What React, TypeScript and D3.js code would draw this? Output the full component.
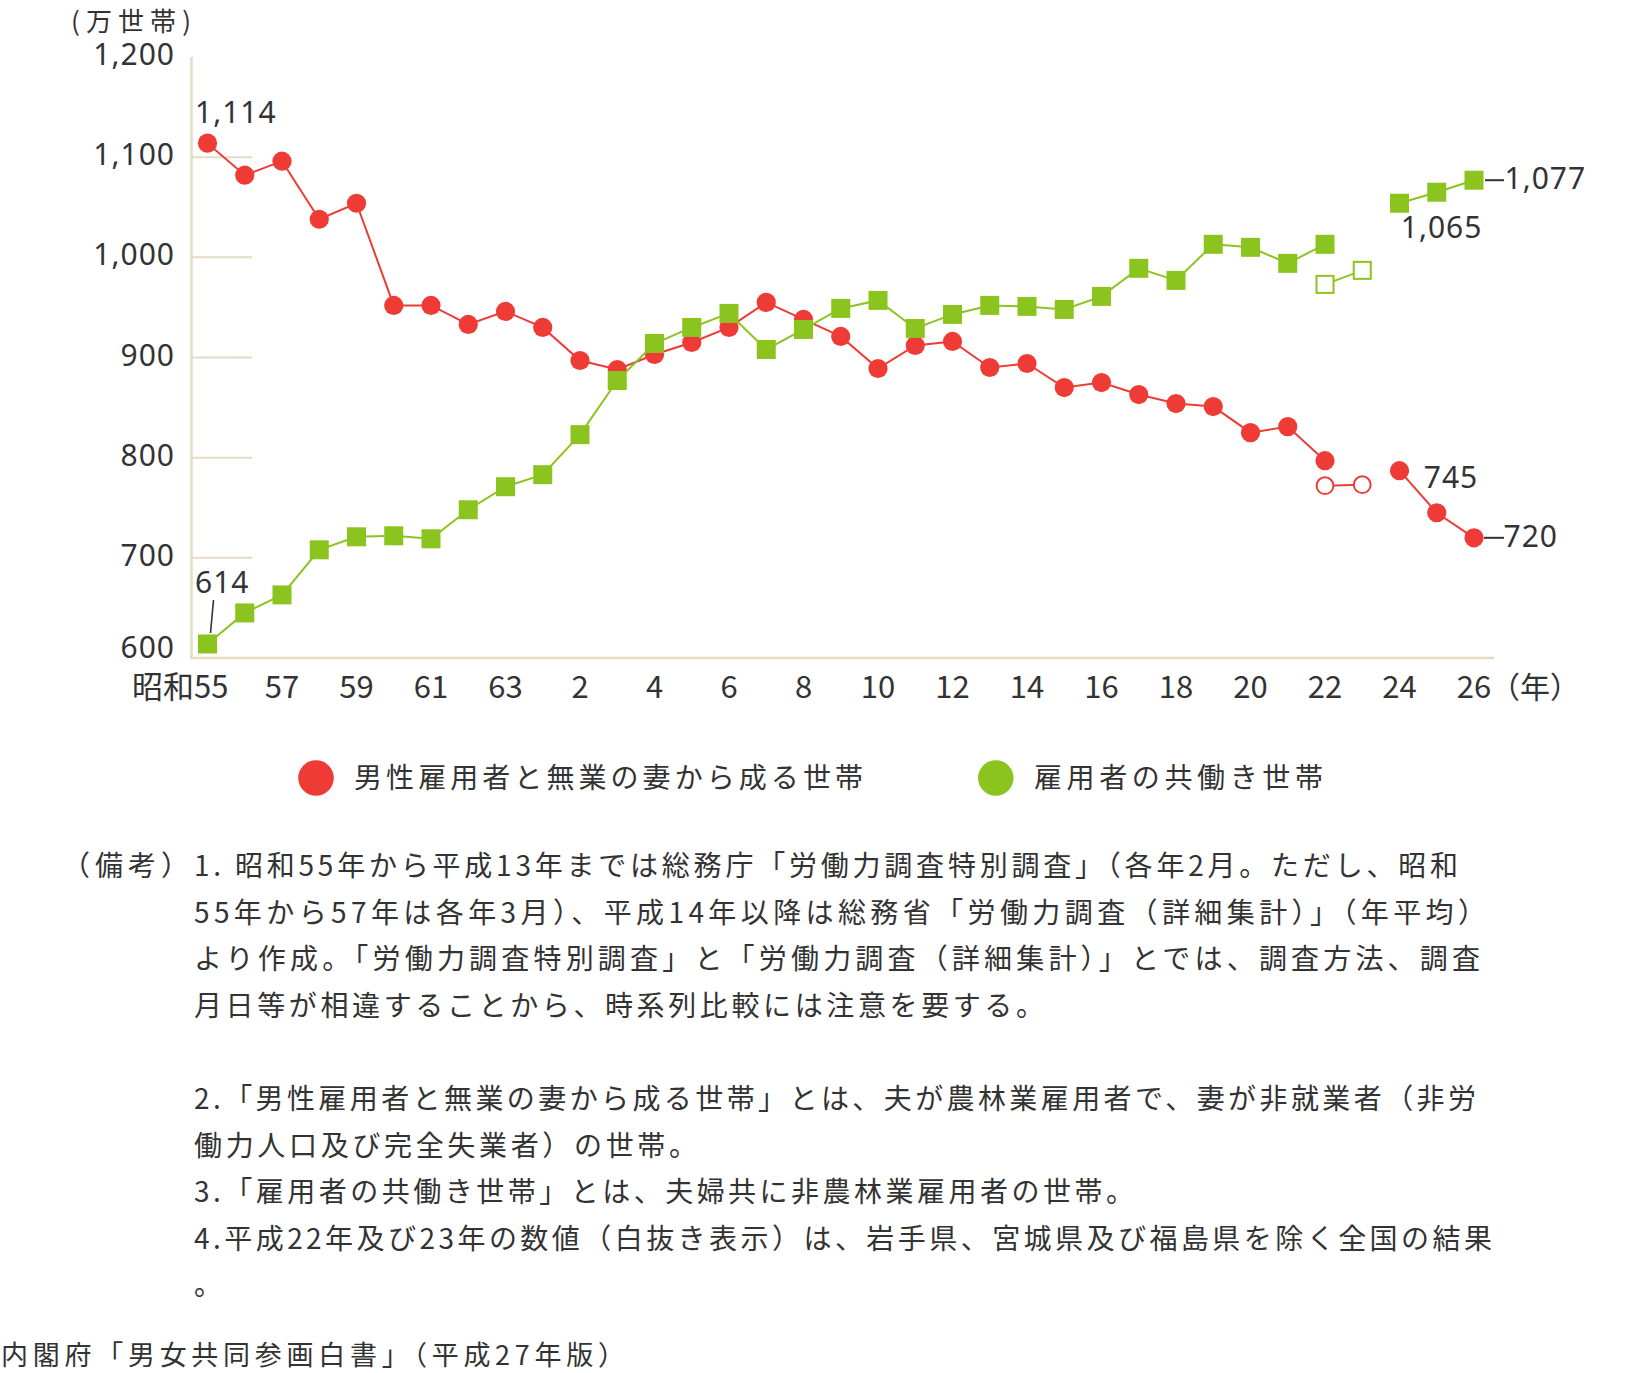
import React from 'react';
import * as d3 from 'd3';

const CJK = '"Noto Sans CJK JP", "Noto Sans", sans-serif';
const NUM = '"Noto Sans", "Noto Sans CJK JP", sans-serif';
const RED = '#ef3b36';
const GREEN = '#8cc41f';
const AXIS = '#e6dbc3';
const INK = '#333333';

// 年（昭和55年〜平成26年）
const years = [
  '昭和55', '56', '57', '58', '59', '60', '61', '62', '63', '平成元',
  '2', '3', '4', '5', '6', '7', '8', '9', '10', '11', '12', '13', '14',
  '15', '16', '17', '18', '19', '20', '21', '22', '23', '24', '25', '26',
];
const tickYears = ['昭和55', '57', '59', '61', '63', '2', '4', '6', '8', '10', '12', '14', '16', '18', '20', '22', '24', '26'];
const yTicks = [600, 700, 800, 900, 1000, 1100, 1200];

// 男性雇用者と無業の妻から成る世帯（万世帯）
const maleOnly = [
  1114, 1082, 1096, 1038, 1054, 952, 952, 933, 946, 930,
  897, 888, 903, 915, 930, 955, 938, 921, 889, 912, 916, 890, 894,
  870, 875, 863, 854, 851, 825, 831, 797, null, 787, 745, 720,
];
// 雇用者の共働き世帯（万世帯）
const dualIncome = [
  614, 645, 663, 708, 721, 722, 719, 748, 771, 783,
  823, 877, 914, 930, 944, 908, 928, 949, 957, 929, 943, 952, 951,
  948, 961, 989, 977, 1013, 1010, 994, 1013, null, 1054, 1065, 1077,
];

// 平成22・23年（岩手県、宮城県及び福島県を除く）
const exclYears = ['22', '23'];
const maleOnlyExcl = [772, 773];
const dualIncomeExcl = [973, 987];

const legendLabels = ['男性雇用者と無業の妻から成る世帯', '雇用者の共働き世帯'];

const noteHead = '（備考）';
const noteLines = [
  '1. 昭和55年から平成13年までは総務庁「労働力調査特別調査」（各年2月。ただし、昭和',
  '55年から57年は各年3月）、平成14年以降は総務省「労働力調査（詳細集計）」（年平均）',
  'より作成。「労働力調査特別調査」と「労働力調査（詳細集計）」とでは、調査方法、調査',
  '月日等が相違することから、時系列比較には注意を要する。',
  '',
  '2.「男性雇用者と無業の妻から成る世帯」とは、夫が農林業雇用者で、妻が非就業者（非労',
  '働力人口及び完全失業者）の世帯。',
  '3.「雇用者の共働き世帯」とは、夫婦共に非農林業雇用者の世帯。',
  '4.平成22年及び23年の数値（白抜き表示）は、岩手県、宮城県及び福島県を除く全国の結果',
  '。',
];
const source = '内閣府「男女共同参画白書」（平成27年版）';

// fitted widths of the note lines (px)
const noteWidths = [1264, 1292, 1286, 850, 0, 1282, 503, 940, 1298, 0];

export default function App() {
  const x = d3.scalePoint<string>().domain(years).range([207.5, 1474]);
  const y = d3.scaleLinear().domain([600, 1200]).range([658, 57]);
  const fmt = d3.format(',');
  const px = (k: string) => x(k) as number;

  const seriesLine = d3
    .line<number | null>()
    .defined((d) => d != null)
    .x((_, i) => px(years[i]))
    .y((d) => y(d as number));

  const exclLine = d3
    .line<number>()
    .x((_, i) => px(exclYears[i]))
    .y((d) => y(d));

  const last = years.length - 1;
  const first = years[0];
  const sq = 19;

  return (
    <svg
      width={1640}
      height={1373}
      style={{ position: 'absolute', left: 0, top: 0, display: 'block', background: '#fff' }}
    >
      {/* axes */}
      <line x1={191.5} x2={191.5} y1={y(1200)} y2={y(600)} stroke={AXIS} strokeWidth={2.5} />
      <line x1={190} x2={1494} y1={y(600)} y2={y(600)} stroke={AXIS} strokeWidth={2.5} />
      {yTicks
        .filter((v) => v > 600 && v < 1200)
        .map((v) => (
          <line key={v} x1={191.5} x2={252} y1={y(v)} y2={y(v)} stroke={AXIS} strokeWidth={2} />
        ))}
      {yTicks.map((v) => (
        <text
          key={v}
          x={175}
          y={y(v) + (v === 600 ? 0 : 8)}
          textAnchor="end"
          fontFamily={NUM}
          fontSize={30}
          letterSpacing={1}
          fill={INK}
        >
          {fmt(v)}
        </text>
      ))}
      <text x={71} y={31} fontFamily={CJK} fontSize={26} fill={INK} textLength={120} lengthAdjust="spacing">
        (万世帯)
      </text>

      {tickYears.map((t) => (
        <text
          key={t}
          x={t === first ? px(t) + 21 : px(t)}
          y={698}
          textAnchor={t === first ? 'end' : 'middle'}
          fontFamily={CJK}
          fontSize={31}
          fill={INK}
        >
          {t}
        </text>
      ))}
      <text x={px(years[last]) + 16} y={698} fontFamily={CJK} fontSize={30} fill={INK}>
        （年）
      </text>

      {/* male-only households */}
      <path d={seriesLine(maleOnly) || ''} fill="none" stroke={RED} strokeWidth={2} />
      <path d={exclLine(maleOnlyExcl) || ''} fill="none" stroke={RED} strokeWidth={2} />
      {maleOnly.map((v, i) =>
        v == null ? null : <circle key={i} cx={px(years[i])} cy={y(v)} r={9.6} fill={RED} />
      )}
      {maleOnlyExcl.map((v, i) => (
        <circle key={i} cx={px(exclYears[i])} cy={y(v)} r={8.4} fill="#fff" stroke={RED} strokeWidth={2} />
      ))}

      {/* dual-income households */}
      <path d={seriesLine(dualIncome) || ''} fill="none" stroke={GREEN} strokeWidth={2} />
      <path d={exclLine(dualIncomeExcl) || ''} fill="none" stroke={GREEN} strokeWidth={2} />
      {dualIncome.map((v, i) =>
        v == null ? null : (
          <rect key={i} x={px(years[i]) - sq / 2} y={y(v) - sq / 2} width={sq} height={sq} fill={GREEN} />
        )
      )}
      {dualIncomeExcl.map((v, i) => (
        <rect
          key={i}
          x={px(exclYears[i]) - 8.5}
          y={y(v) - 8.5}
          width={17}
          height={17}
          fill="#fff"
          stroke={GREEN}
          strokeWidth={2}
        />
      ))}

      {/* value callouts */}
      <g fontFamily={NUM} fontSize={30} letterSpacing={1} fill={INK}>
        <text x={px(first) - 12.5} y={y(maleOnly[0] as number) - 20}>
          {fmt(maleOnly[0] as number)}
        </text>
        <text x={px(first) - 12.5} y={y(dualIncome[0] as number) - 51}>
          {fmt(dualIncome[0] as number)}
        </text>
        <line
          x1={px(first) + 6}
          y1={y(dualIncome[0] as number) - 44}
          x2={px(first) + 3}
          y2={y(dualIncome[0] as number) - 11}
          stroke={INK}
          strokeWidth={1.6}
        />
        <text x={px(years[last - 1]) - 36} y={y(dualIncome[last - 1] as number) + 46}>
          {fmt(dualIncome[last - 1] as number)}
        </text>
        <line
          x1={px(years[last]) + 11}
          x2={px(years[last]) + 30}
          y1={y(dualIncome[last] as number)}
          y2={y(dualIncome[last] as number)}
          stroke={INK}
          strokeWidth={2}
        />
        <text x={px(years[last]) + 30.5} y={y(dualIncome[last] as number) + 9}>
          {fmt(dualIncome[last] as number)}
        </text>
        <text x={px(years[last - 1]) - 13} y={y(maleOnly[last - 1] as number) - 25}>
          {fmt(maleOnly[last - 1] as number)}
        </text>
        <line
          x1={px(years[last]) + 10}
          x2={px(years[last]) + 30}
          y1={y(maleOnly[last] as number)}
          y2={y(maleOnly[last] as number)}
          stroke={INK}
          strokeWidth={2}
        />
        <text x={px(years[last]) + 29.5} y={y(maleOnly[last] as number) + 9}>
          {fmt(maleOnly[last] as number)}
        </text>
      </g>

      {/* legend */}
      <circle cx={316} cy={778} r={17.8} fill={RED} />
      <text x={354} y={788} fontFamily={CJK} fontSize={28} fill={INK} textLength={509} lengthAdjust="spacing">
        {legendLabels[0]}
      </text>
      <circle cx={995.8} cy={778} r={17.8} fill={GREEN} />
      <text x={1034} y={788} fontFamily={CJK} fontSize={28} fill={INK} textLength={289} lengthAdjust="spacing">
        {legendLabels[1]}
      </text>

      {/* notes */}
      <g fontFamily={CJK} fontSize={28} fill={INK}>
        <text x={62} y={876} textLength={127} lengthAdjust="spacing">
          {noteHead}
        </text>
        {noteLines.map((s, i) =>
          s ? (
            <text
              key={i}
              x={194}
              y={876 + i * 46.6}
              {...(noteWidths[i] ? { textLength: noteWidths[i], lengthAdjust: 'spacing' } : {})}
            >
              {s}
            </text>
          ) : null
        )}
        <text x={1} y={1365} fontSize={27} textLength={624} lengthAdjust="spacing">
          {source}
        </text>
      </g>
    </svg>
  );
}
